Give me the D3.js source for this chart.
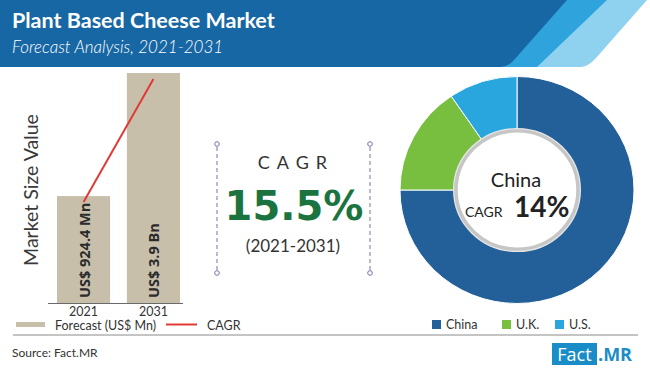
<!DOCTYPE html>
<html>
<head>
<meta charset="utf-8">
<script src="https://cdn.jsdelivr.net/npm/d3@7"></script>
<style>
  html, body { margin: 0; padding: 0; background: #fff; }
  svg { display: block; }
</style>
</head>
<body>
<svg id="chart" width="650" height="368"></svg>
<script>
// ---- data ----
const years = ["2021", "2031"];
const marketValues = [924.4, 3900];            // US$ Mn
const barLabels = ["US$ 924.4 Mn", "US$ 3.9 Bn"];
const cagrValue = "15.5%";
const cagrPeriod = "(2021-2031)";
const regions = ["China", "U.K.", "U.S."];
const regionShares = [75, 15.5, 9.5];
const regionColors = ["#235f98", "#79bf3f", "#2aa6de"];
const focusRegion = "China";
const focusCagr = "14%";

const svg = d3.select("#chart");
const W = 650, H = 368;

// ---- header ----
const head = svg.append("g");
head.append("rect").attr("x", 0).attr("y", 0).attr("width", W).attr("height", 67).attr("fill", "#1767a4");
head.append("path").attr("fill", "#2fa4dc")
  .attr("d", "M567,0 L650,0 L650,67 L500,67 Q508,67 514,60 Z");
head.append("path").attr("fill", "#8ed2ef")
  .attr("d", "M607,0 L650,0 L650,67 L537,67 Z");
head.append("path").attr("fill", "#ffffff")
  .attr("d", "M647,0 L650,0 L650,67 L580,67 Q588,67 596,58 Z");
head.append("text").attr("x", 12).attr("y", 28)
  .attr("font-family", "Lato, 'Open Sans', sans-serif").attr("font-weight", 700)
  .attr("font-size", 21.5).attr("fill", "#fff").text("Plant Based Cheese Market");
head.append("text").attr("x", 12).attr("y", 53)
  .attr("font-family", "Lato, 'Open Sans', sans-serif").attr("font-style", "italic")
  .attr("font-weight", 300)
  .attr("font-size", 17).attr("fill", "#fff").text("Forecast Analysis, 2021-2031");

// ---- bar chart ----
const x = d3.scaleBand().domain(years).range([57, 180]).paddingInner(0.24).paddingOuter(0);
const y = d3.scaleLinear().domain([-1660, 3900]).range([303, 73]);
const barColor = "#c8bfab";

const bars = svg.append("g");
bars.selectAll("rect.bar").data(years).join("rect")
  .attr("class", "bar")
  .attr("x", d => x(d))
  .attr("width", x.bandwidth())
  .attr("y", (d, i) => y(marketValues[i]))
  .attr("height", (d, i) => y.range()[0] - y(marketValues[i]))
  .attr("fill", barColor);

// CAGR line
const linePts = years.map((d, i) => [x(d) + x.bandwidth() / 2, y(marketValues[i]) + 6]);
bars.append("path").attr("d", d3.line()(linePts))
  .attr("stroke", "#e03a37").attr("stroke-width", 2).attr("fill", "none");

// bar labels
bars.selectAll("text.blab").data(years).join("text")
  .attr("class", "blab")
  .attr("transform", d => `translate(${x(d) + x.bandwidth() / 2 + 6},298) rotate(-90)`)
  .attr("font-family", "'Open Sans', sans-serif").attr("font-weight", 700)
  .attr("font-size", 14.5).attr("fill", "#2b2b2b")
  .text((d, i) => barLabels[i]);

// axis
const axisG = svg.append("g").attr("transform", "translate(0,303)")
  .call(d3.axisBottom(x).tickSize(0).tickPadding(0));
axisG.select(".domain").remove();
axisG.selectAll("text").attr("dy", null).attr("y", 12.5)
  .attr("font-family", "Lato, 'Open Sans', sans-serif")
  .attr("font-size", 12.5).attr("fill", "#333");
svg.append("line").attr("x1", 48).attr("x2", 183).attr("y1", 303.5).attr("y2", 303.5)
  .attr("stroke", "#6a6a6a").attr("stroke-width", 1.2);

// y title
svg.append("text").attr("transform", "translate(38,190) rotate(-90)")
  .attr("text-anchor", "middle")
  .attr("font-family", "Lato, 'Open Sans', sans-serif").attr("font-weight", 400)
  .attr("font-size", 19.5).attr("fill", "#3a3a3a").text("Market Size Value");

// ---- CAGR block ----
const cg = svg.append("g");
[217, 370].forEach(cx => {
  cg.append("line").attr("x1", cx).attr("x2", cx).attr("y1", 147).attr("y2", 270)
    .attr("stroke", "#7b70a8").attr("stroke-width", 1).attr("stroke-dasharray", "4,3");
  [144, 273].forEach(cy => cg.append("circle").attr("cx", cx).attr("cy", cy).attr("r", 2.3)
    .attr("fill", "#fff").attr("stroke", "#7b70a8").attr("stroke-width", 1));
});
cg.append("text").attr("x", 296).attr("y", 169).attr("text-anchor", "middle")
  .attr("font-family", "Lato, 'Open Sans', sans-serif").attr("font-size", 18)
  .attr("letter-spacing", 7).attr("fill", "#333").text("CAGR");
cg.append("text").attr("x", 294).attr("y", 220).attr("text-anchor", "middle")
  .attr("font-family", "'DejaVu Sans', sans-serif").attr("font-weight", 700)
  .attr("font-size", 40).attr("fill", "#1b7440").text(cagrValue);
cg.append("text").attr("x", 293).attr("y", 252).attr("text-anchor", "middle")
  .attr("font-family", "Lato, 'Open Sans', sans-serif").attr("font-size", 17)
  .attr("fill", "#333").text(cagrPeriod);

// ---- donut ----
const cx0 = 517, cy0 = 190;
const pie = d3.pie().sort(null).value(d => d)(regionShares);
const arc = d3.arc().innerRadius(60).outerRadius(117);
const dg = svg.append("g").attr("transform", `translate(${cx0},${cy0}) scale(1,0.97)`);
dg.selectAll("path").data(pie).join("path")
  .attr("d", arc).attr("fill", (d, i) => regionColors[i])
  .attr("stroke", "#fff").attr("stroke-width", 1);
dg.append("circle").attr("r", 63).attr("fill", "#fff").attr("stroke", "#e6e6e6").attr("stroke-width", 2);
dg.append("circle").attr("r", 61).attr("fill", "#fff").attr("stroke", "#c6c6c6").attr("stroke-width", 3.5);

svg.append("text").attr("x", 516).attr("y", 187).attr("text-anchor", "middle")
  .attr("font-family", "Lato, 'Open Sans', sans-serif").attr("font-size", 20)
  .attr("fill", "#222").text(focusRegion);
svg.append("text").attr("x", 465).attr("y", 217)
  .attr("font-family", "Lato, 'Open Sans', sans-serif").attr("font-size", 14)
  .attr("fill", "#222").text("CAGR");
svg.append("text").attr("x", 514).attr("y", 217)
  .attr("font-family", "Lato, 'Open Sans', sans-serif").attr("font-weight", 700).attr("font-size", 28)
  .attr("fill", "#222").text(focusCagr);

// ---- legends ----
const lg = svg.append("g");
const legFont = "Lato, 'Open Sans', sans-serif";
lg.append("rect").attr("x", 16).attr("y", 322).attr("width", 29).attr("height", 5).attr("fill", barColor);
lg.append("text").attr("x", 55).attr("y", 330).attr("font-family", legFont)
  .attr("font-size", 12.5).attr("fill", "#333").text("Forecast (US$ Mn)");
lg.append("line").attr("x1", 166).attr("x2", 197).attr("y1", 324.5).attr("y2", 324.5)
  .attr("stroke", "#e03a37").attr("stroke-width", 2);
lg.append("text").attr("x", 207).attr("y", 330).attr("font-family", legFont)
  .attr("font-size", 12.5).attr("fill", "#333").text("CAGR");

const legX = [432, 502, 555];
regions.forEach((r, i) => {
  lg.append("rect").attr("x", legX[i]).attr("y", 320).attr("width", 9).attr("height", 9).attr("fill", regionColors[i]);
  lg.append("text").attr("x", legX[i] + 14).attr("y", 329).attr("font-family", legFont)
    .attr("font-size", 12.5).attr("fill", "#333").text(r);
});

svg.append("line").attr("x1", 13).attr("x2", 638).attr("y1", 335).attr("y2", 335)
  .attr("stroke", "#8a8a8a").attr("stroke-width", 1);

svg.append("text").attr("x", 12).attr("y", 357).attr("font-family", legFont)
  .attr("font-size", 12).attr("fill", "#333").text("Source: Fact.MR");

// logo
svg.append("rect").attr("x", 552).attr("y", 343).attr("width", 45).attr("height", 22).attr("fill", "#1a8dc8");
svg.append("text").attr("x", 574.5).attr("y", 361).attr("text-anchor", "middle")
  .attr("font-family", "'Open Sans', sans-serif").attr("font-size", 18).attr("fill", "#fff").text("Fact");
svg.append("text").attr("x", 598).attr("y", 361)
  .attr("font-family", "'Open Sans', sans-serif").attr("font-weight", 700).attr("font-size", 18).attr("fill", "#1a8dc8").text(".MR");
</script>
</body>
</html>
